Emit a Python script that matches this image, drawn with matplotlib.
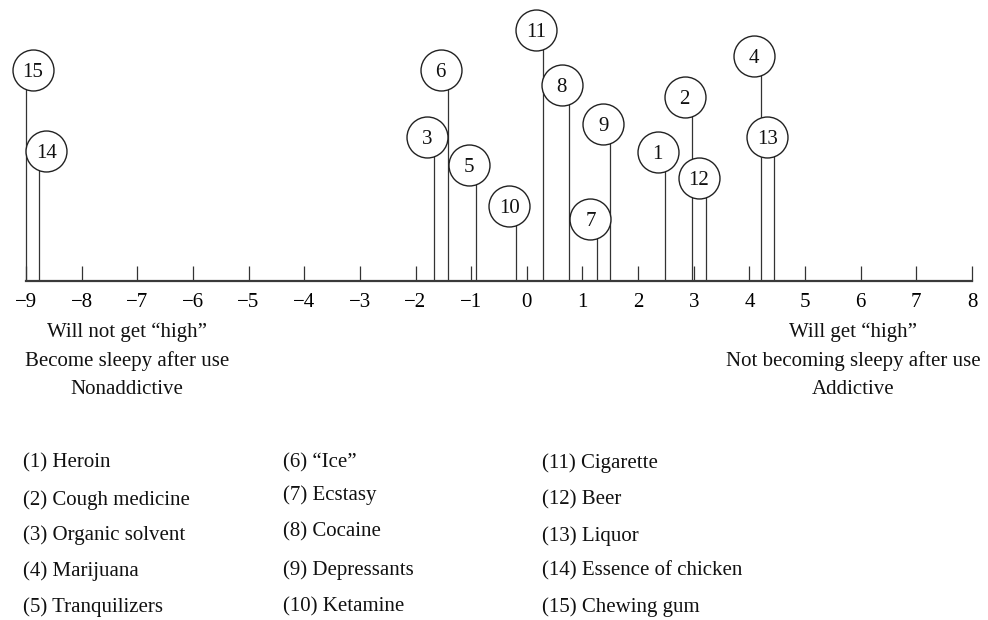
import matplotlib
matplotlib.use('Agg')
import matplotlib.pyplot as plt

# ---- data ----
item_ids = list(range(1, 16))
item_names = ["Heroin", "Cough medicine", "Organic solvent", "Marijuana", "Tranquilizers",
              "\u201cIce\u201d", "Ecstasy", "Cocaine", "Depressants", "Ketamine",
              "Cigarette", "Beer", "Liquor", "Essence of chicken", "Chewing gum"]
scores = [2.48, 2.96, -1.67, 4.20, -0.92, -1.42, 1.27, 0.75, 1.50, -0.19,
          0.29, 3.22, 4.45, -8.76, -9.00]
heights = [2.32, 3.30, 2.58, 4.04, 2.08, 3.79, 1.11, 3.51, 2.82, 1.35,
           4.50, 1.84, 2.58, 2.33, 3.79]
tick_values = list(range(-9, 9))
tick_labels = [str(v).replace('-', '\u2212') for v in tick_values]
left_caption = ["Will not get \u201chigh\u201d", "Become sleepy after use", "Nonaddictive"]
right_caption = ["Will get \u201chigh\u201d", "Not becoming sleepy after use", "Addictive"]

# ---- style / layout ----
plt.rcParams['font.family'] = ['Liberation Serif', 'DejaVu Serif']
W, H = 988, 620
PX = 55.65          # pixels per axis unit
BASE = 280.7        # baseline pixel row from top
fig = plt.figure(figsize=(W / 100, H / 100), dpi=100)
ax = fig.add_axes([0, 0, 1, 1])
ax.set_xlim(-9 - 26 / PX, 8 + (W - 972) / PX)
ax.set_ylim(-(H - BASE) / PX, BASE / PX)

for s in ['top', 'left', 'right']:
    ax.spines[s].set_visible(False)
ax.spines['bottom'].set_position(('data', 0))
ax.spines['bottom'].set_bounds(tick_values[0], tick_values[-1])
ax.spines['bottom'].set_linewidth(1.6)
ax.spines['bottom'].set_color('#3a3a3a')
ax.set_xticks(tick_values, tick_labels)
ax.tick_params(axis='x', direction='in', length=10.8, width=0.9, color='#333333',
               pad=9, labelsize=15)
ax.set_yticks([])
ax.patch.set_alpha(0)

offset = 7 / PX
sides = [1 if s < -8 else -1 for s in scores]
cx = [s + d * offset for s, d in zip(scores, sides)]

ax.vlines(scores, 0, heights, color='#333333', lw=0.9, zorder=2)
ax.scatter(cx, heights, s=29.5 ** 2, facecolor='white', edgecolor='#222222',
           linewidth=1.0, zorder=3)
for i, x, y in zip(item_ids, cx, heights):
    ax.text(x, y, str(i), ha='center', va='center_baseline', fontsize=15, zorder=4,
            color='#111111')

def fpos(x, y):
    return x / W, 1 - y / H

caption_rows = [332, 361, 389]
for line, y in zip(left_caption, caption_rows):
    fig.text(*fpos(127, y), line, ha='center', va='center', fontsize=15, color='#111111')
for line, y in zip(right_caption, caption_rows):
    fig.text(*fpos(853, y), line, ha='center', va='center', fontsize=15, color='#111111')

col_x = [23, 283, 542]
col_rows = [[463, 500, 535, 571, 607],
            [463, 495, 532, 570, 607],
            [463, 500, 536, 571, 607]]
for k, (i, name) in enumerate(zip(item_ids, item_names)):
    c, r = divmod(k, 5)
    fig.text(*fpos(col_x[c], col_rows[c][r]), f"({i}) {name}", ha='left', va='center',
             fontsize=15, color='#111111')

fig.savefig('out.png', dpi=100)
